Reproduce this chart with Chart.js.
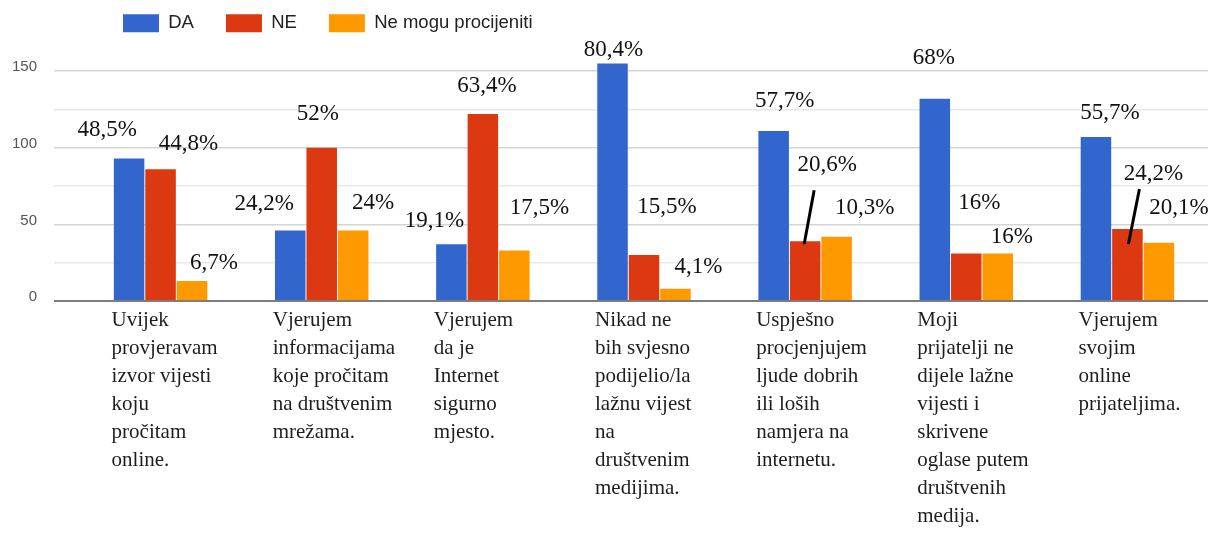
<!DOCTYPE html>
<html>
<head>
<meta charset="utf-8">
<script src="https://cdn.jsdelivr.net/npm/chart.js@4"></script>
<style>
html,body{margin:0;padding:0;background:#ffffff;}
#wrap{width:1221px;height:533px;position:relative;}
</style>
</head>
<body>
<div id="wrap"><canvas id="c" width="1221" height="533"></canvas></div>
<script>
// ---- data ----
const categories = [
  ["Uvijek","provjeravam","izvor vijesti","koju","pročitam","online."],
  ["Vjerujem","informacijama","koje pročitam","na društvenim","mrežama."],
  ["Vjerujem","da je","Internet","sigurno","mjesto."],
  ["Nikad ne","bih svjesno","podijelio/la","lažnu vijest","na","društvenim","medijima."],
  ["Uspješno","procjenjujem","ljude dobrih","ili loših","namjera na","internetu."],
  ["Moji","prijatelji ne","dijele lažne","vijesti i","skrivene","oglase putem","društvenih","medija."],
  ["Vjerujem","svojim","online","prijateljima."]
];
const seriesNames = ["DA", "NE", "Ne mogu procijeniti"];
const valuesDA = [93, 46, 37, 155, 111, 132, 107];
const valuesNE = [86, 100, 122, 30, 39, 31, 47];
const valuesNM = [13, 46, 33, 8, 42, 31, 38];
const pctDA = ["48,5%", "24,2%", "19,1%", "80,4%", "57,7%", "68%", "55,7%"];
const pctNE = ["44,8%", "52%", "63,4%", "15,5%", "20,6%", "16%", "24,2%"];
const pctNM = ["6,7%", "24%", "17,5%", "4,1%", "10,3%", "16%", "20,1%"];
const yTickLabels = [0, 50, 100, 150];
const yGridValues = [0, 25, 50, 75, 100, 125, 150];

// ---- annotation placement (relative to each bar: dx from bar centre, height above bar top) ----
const pctOffsets = [
  [[-22,29],[-26,27],[-17,23],[1,14],[11,30],[-1,41],[14,24]],
  [[28,25],[-4,34],[4,28],[23,48],[22,76],[13,51],[26,55]],
  [[22,18],[20,28],[25,42],[23,22],[28,29],[14,17],[20,35]]
];
// [series, category, dx1, above1, dx2, above2]
const leaderLines = [
  [1, 4, -1, -3, 9, 51],
  [1, 6, 1, -15, 12, 40]
];

const colors = ["#3366CC", "#DC3912", "#FF9900"];
const pctAll = [pctDA, pctNE, pctNM];

const annotate = {
  id: 'annotate',
  afterLayout(chart) {
    const lg = chart.legend;
    const pad = chart.options.plugins.legend.labels.padding;
    lg.left = chart.chartArea.left + 43 - pad;
    lg.top = 14 - pad;
  },
  afterDatasetsDraw(chart) {
    const ctx = chart.ctx;
    ctx.save();
    ctx.font = '23px "Liberation Serif"';
    ctx.textAlign = 'center';
    ctx.textBaseline = 'middle';
    ctx.fillStyle = '#111111';
    pctAll.forEach((arr, s) => {
      const meta = chart.getDatasetMeta(s);
      arr.forEach((txt, i) => {
        const bar = meta.data[i];
        const o = pctOffsets[s][i];
        ctx.fillText(txt, bar.x + o[0], bar.y - o[1]);
      });
    });
    ctx.strokeStyle = '#000000';
    ctx.lineWidth = 3;
    ctx.lineCap = 'butt';
    leaderLines.forEach(l => {
      const bar = chart.getDatasetMeta(l[0]).data[l[1]];
      ctx.beginPath();
      ctx.moveTo(bar.x + l[2], bar.y - l[3]);
      ctx.lineTo(bar.x + l[4], bar.y - l[5]);
      ctx.stroke();
    });
    ctx.restore();
  }
};

const ds = (label, data, color) => ({
  label, data,
  backgroundColor: color,
  borderWidth: 0,
  categoryPercentage: 0.586,
  barPercentage: 0.97
});

new Chart(document.getElementById('c'), {
  type: 'bar',
  data: {
    labels: categories,
    datasets: [
      ds(seriesNames[0], valuesDA, colors[0]),
      ds(seriesNames[1], valuesNE, colors[1]),
      ds(seriesNames[2], valuesNM, colors[2])
    ]
  },
  options: {
    responsive: false,
    devicePixelRatio: 1,
    animation: false,
    layout: { padding: { left: 0, right: 13, top: 0, bottom: 0 } },
    plugins: {
      legend: {
        position: 'top',
        align: 'start',
        labels: {
          boxWidth: 36,
          boxHeight: 18,
          padding: 32,
          color: '#222222',
          font: { family: 'Liberation Sans', size: 18.5 }
        }
      },
      tooltip: { enabled: false }
    },
    scales: {
      x: {
        grid: { display: false, drawTicks: false },
        border: { display: false },
        ticks: {
          autoSkip: false,
          maxRotation: 0,
          minRotation: 0,
          align: 'start',
          labelOffset: -49,
          padding: 5,
          color: '#1e1e1e',
          font: { family: 'Liberation Serif', size: 21, lineHeight: 28 / 21 }
        },
        afterFit: s => { s.height = 232; s.paddingLeft = 0; s.paddingRight = 0; }
      },
      y: {
        min: 0,
        max: 157,
        afterBuildTicks: s => { s.ticks = yGridValues.map(v => ({ value: v })); },
        ticks: {
          padding: 17,
          labelOffset: -4,
          color: '#555555',
          font: { family: 'Liberation Sans', size: 15 },
          callback: v => yTickLabels.includes(v) ? String(v) : ''
        },
        grid: {
          drawTicks: true,
          tickLength: 26,
          color: c => {
            const v = c.tick ? c.tick.value : 1;
            if (v === 0) return '#7d7d7d';
            return v % 50 === 0 ? '#d5d5d5' : '#e9e9e9';
          },
          lineWidth: c => (c.tick && c.tick.value === 0) ? 2 : 1.5
        },
        border: { display: false },
        afterFit: s => { s.width = 80; s.paddingTop = 0; s.paddingBottom = 0; }
      }
    }
  },
  plugins: [annotate]
});
</script>
</body>
</html>
